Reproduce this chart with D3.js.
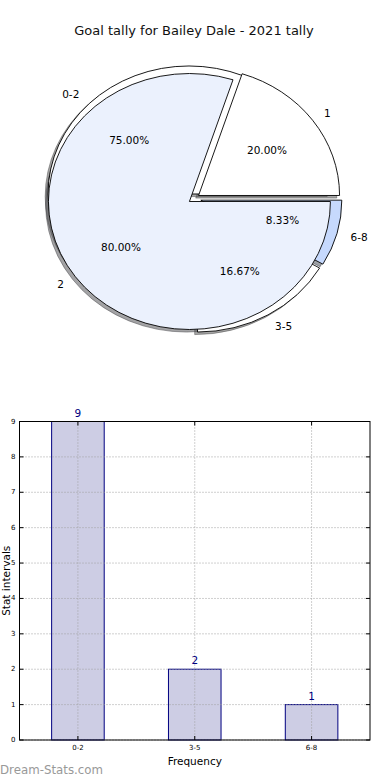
<!DOCTYPE html>
<html><head><meta charset="utf-8">
<script src="https://cdn.jsdelivr.net/npm/d3@7"></script>
<style>body{margin:0;background:#fff}svg{display:block}</style>
</head><body>
<svg id="c" width="390" height="780"></svg>
<script>
const title = "Goal tally for Bailey Dale - 2021 tally";
const outerLabels = ["0-2", "3-5", "6-8"];
const outerValues = [9, 2, 1];
const outerColors = ["#ffffff", "#ffffff", "#c6d9fd"];
const innerLabels = ["1", "2"];
const innerValues = [1, 4];
const innerColors = ["#ffffff", "#ebf1fd"];
const barCategories = ["0-2", "3-5", "6-8"];
const barValues = [9, 2, 1];
const yTicks = [0,1,2,3,4,5,6,7,8,9];

const svg = d3.select("#c");
const font = "DejaVu Sans, sans-serif";

svg.append("text").attr("x", 194).attr("y", 30).attr("text-anchor", "middle")
  .attr("dominant-baseline", "central").attr("font-family", font).attr("font-size", 13)
  .attr("fill", "#111").text(title);

// ---- Pie (matplotlib-like, elliptical) ----
const cx = 194, cy = 198.5, rx = 141, ry = 128;
const sy = ry / rx;
function layout(values, labels, colors, explode) {
  const pie = d3.pie().sort(null).startAngle(0).endAngle(2 * Math.PI)(values);
  const total = d3.sum(values);
  return pie.map((p, i) => {
    const t1 = p.startAngle, t2 = p.endAngle; // matplotlib ccw angles from east
    const mid = (t1 + t2) / 2;
    const ox = cx + explode * rx * Math.cos(mid);
    const oy = cy - explode * ry * Math.sin(mid);
    return {t1, t2, mid, ox, oy, label: labels[i], color: colors[i],
            pct: (100 * values[i] / total).toFixed(2) + "%"};
  });
}
const outer = layout(outerValues, outerLabels, outerColors, 0.05);
const inner = layout(innerValues, innerLabels, innerColors, 0.04);
const all = outer.concat(inner);
const arc = d3.arc().innerRadius(0).outerRadius(rx)
  .startAngle(d => Math.PI / 2 - d.t1).endAngle(d => Math.PI / 2 - d.t2);
const shade = d => { const c = d3.rgb(d.color); return d3.rgb(c.r * 0.3, c.g * 0.3, c.b * 0.3); };

const pg = svg.append("g");
pg.selectAll("path.sh").data(all).join("path").attr("class", "sh")
  .attr("transform", d => `translate(${d.ox - 0.02 * rx},${d.oy + 0.02 * ry}) scale(1,${sy})`)
  .attr("d", arc).attr("fill", shade).attr("fill-opacity", 0.5)
  .attr("stroke", shade).attr("stroke-opacity", 0.5).attr("stroke-width", 1)
  .attr("vector-effect", "non-scaling-stroke");
pg.selectAll("path.w").data(all).join("path").attr("class", "w")
  .attr("transform", d => `translate(${d.ox},${d.oy}) scale(1,${sy})`)
  .attr("d", arc).attr("fill", d => d.color).attr("stroke", "#000")
  .attr("stroke-width", 0.9).attr("vector-effect", "non-scaling-stroke");
pg.selectAll("text.lb").data(all).join("text").attr("class", "lb")
  .attr("x", d => d.ox + 1.1 * rx * Math.cos(d.mid))
  .attr("y", d => d.oy - 1.1 * ry * Math.sin(d.mid))
  .attr("text-anchor", d => Math.cos(d.mid) > 0 ? "start" : "end")
  .attr("dominant-baseline", "central").attr("font-family", font).attr("font-size", 10.5)
  .attr("fill", "#000").text(d => d.label);
pg.selectAll("text.pc").data(all).join("text").attr("class", "pc")
  .attr("x", d => d.ox + 0.6 * rx * Math.cos(d.mid))
  .attr("y", d => d.oy - 0.6 * ry * Math.sin(d.mid))
  .attr("text-anchor", "middle")
  .attr("dominant-baseline", "central").attr("font-family", font).attr("font-size", 10.5)
  .attr("fill", "#000").text(d => d.pct);

// ---- Bar chart ----
const L = 19.5, R = 370, T = 421.5, B = 740;
const x = d3.scaleLinear().domain([-0.5, 2.5]).range([L, R]);
const y = d3.scaleLinear().domain([0, 9]).range([B, T]);
const bw = 0.45;
const bg = svg.append("g");
bg.selectAll("rect.bar").data(barValues).join("rect").attr("class", "bar")
  .attr("x", (d, i) => x(i - bw / 2)).attr("width", (d, i) => x(i + bw / 2) - x(i - bw / 2))
  .attr("y", d => y(d)).attr("height", d => y(0) - y(d))
  .attr("fill", "#cdcde4").attr("stroke", "#000080").attr("stroke-width", 1);
bg.selectAll("line.gy").data(yTicks).join("line").attr("class", "gy")
  .attr("x1", L).attr("x2", R).attr("y1", d => y(d)).attr("y2", d => y(d))
  .attr("stroke", "#a0a0a0").attr("stroke-width", 1).attr("stroke-dasharray", "1,2");
bg.selectAll("line.gx").data(barCategories).join("line").attr("class", "gx")
  .attr("x1", (d, i) => x(i)).attr("x2", (d, i) => x(i)).attr("y1", T).attr("y2", B)
  .attr("stroke", "#a0a0a0").attr("stroke-width", 1).attr("stroke-dasharray", "1,2");
bg.append("rect").attr("x", L).attr("y", T).attr("width", R - L).attr("height", B - T)
  .attr("fill", "none").attr("stroke", "#000").attr("stroke-width", 1);
bg.selectAll("line.tl").data(yTicks).join("line").attr("x1", L).attr("x2", L + 4)
  .attr("y1", d => y(d)).attr("y2", d => y(d)).attr("stroke", "#000");
bg.selectAll("line.tr").data(yTicks).join("line").attr("x1", R - 4).attr("x2", R)
  .attr("y1", d => y(d)).attr("y2", d => y(d)).attr("stroke", "#000");
bg.selectAll("line.tb").data(barCategories).join("line").attr("x1", (d, i) => x(i)).attr("x2", (d, i) => x(i))
  .attr("y1", B - 4).attr("y2", B).attr("stroke", "#000");
bg.selectAll("line.tt").data(barCategories).join("line").attr("x1", (d, i) => x(i)).attr("x2", (d, i) => x(i))
  .attr("y1", T).attr("y2", T + 4).attr("stroke", "#000");
bg.selectAll("text.yl").data(yTicks).join("text").attr("x", L - 4).attr("y", d => y(d))
  .attr("text-anchor", "end").attr("dominant-baseline", "central")
  .attr("font-family", font).attr("font-size", 7).attr("fill", "#000").text(d => d);
bg.selectAll("text.xl").data(barCategories).join("text").attr("x", (d, i) => x(i)).attr("y", B + 8)
  .attr("text-anchor", "middle").attr("dominant-baseline", "central")
  .attr("font-family", font).attr("font-size", 7).attr("fill", "#000").text(d => d);
bg.selectAll("text.vl").data(barValues).join("text").attr("x", (d, i) => x(i)).attr("y", d => y(d) - 5)
  .attr("text-anchor", "middle").attr("font-family", font).attr("font-size", 10.5)
  .attr("fill", "#000080").text(d => d);
bg.append("text").attr("x", x(1)).attr("y", 761).attr("text-anchor", "middle")
  .attr("dominant-baseline", "central").attr("font-family", font).attr("font-size", 10.5)
  .attr("fill", "#000").text("Frequency");
bg.append("text").attr("transform", `translate(6,${(T + B) / 2}) rotate(-90)`)
  .attr("text-anchor", "middle").attr("dominant-baseline", "central")
  .attr("font-family", font).attr("font-size", 10.5).attr("fill", "#000").text("Stat intervals");
svg.append("text").attr("x", 0).attr("y", 770).attr("dominant-baseline", "central")
  .attr("font-family", font).attr("font-size", 11.8).attr("fill", "#999")
  .text("Dream-Stats.com");
</script>
</body></html>
